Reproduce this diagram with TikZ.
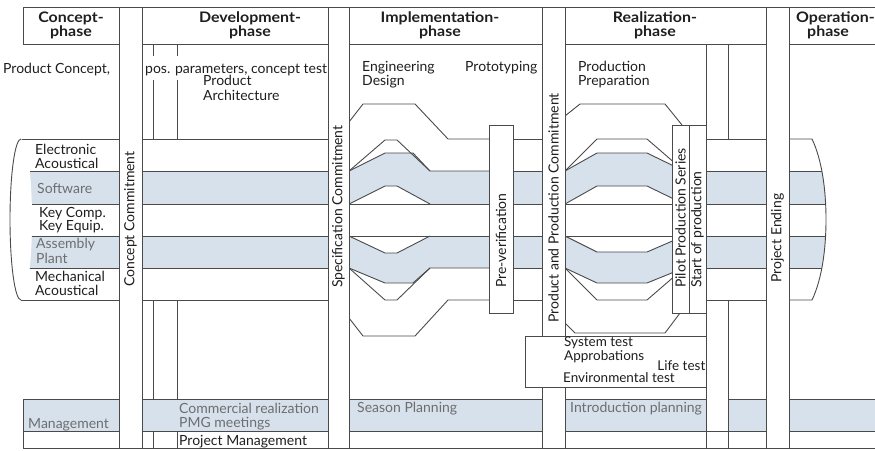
\documentclass[tikz,border=0pt]{standalone}
\usepackage{fontspec}
\setmainfont{Lato}
\newfontfamily\headfont{Lato}[FakeStretch=1.1]
\definecolor{bandblue}{HTML}{D6E1EC}
\definecolor{linec}{HTML}{4A4A4A}
\definecolor{inkc}{HTML}{1E1E1E}
\definecolor{greyc}{HTML}{6E6E6E}
\begin{document}
\begin{tikzpicture}[x=1pt,y=-1pt,
  ln/.style={draw=linec,line width=0.9pt},
  bar/.style={ln,fill=white},
  band/.style={ln,fill=bandblue},
  txt/.style={inner sep=0pt,anchor=base west,text=inkc,font=\fontsize{14}{14}\selectfont},
  gtxt/.style={txt,text=greyc},
  small/.style={font=\fontsize{13.5}{12}\selectfont},
  head/.style={inner sep=0pt,align=center,text=inkc,font=\headfont\bfseries\fontsize{14.5}{14}\selectfont},
  vtxt/.style={inner sep=0pt,anchor=west,rotate=90,text=inkc,font=\fontsize{14}{14}\selectfont}]
\useasboundingbox (0,0) rectangle (875,450);
\clip (0,0) rectangle (875,450);

% ---------- shaded bands (Software, Assembly Plant) ----------
\fill[bandblue] (21,171) rectangle (119,204);
\fill[bandblue] (21,236) rectangle (119,268);
\fill[bandblue] (142,171) rectangle (328,204);
\fill[bandblue] (142,236) rectangle (328,268);
% implementation phase: bands bulge apart
\fill[bandblue] (349,171) -- (385,153) -- (413,153) -- (430,171) -- (489,171)
  -- (489,204) -- (430,204) -- (397,186) -- (385,186) -- (349,204) -- cycle;
\fill[bandblue] (349,236) -- (385,253) -- (397,253) -- (430,236) -- (489,236)
  -- (489,268) -- (430,268) -- (413,283) -- (385,283) -- (349,268) -- cycle;
\fill[bandblue] (513,171) rectangle (542,204);
\fill[bandblue] (513,236) rectangle (542,268);
% realization phase
\fill[bandblue] (565,171) -- (597,153) -- (647,153) -- (684,171)
  -- (684,204) -- (647,186) -- (597,186) -- (565,204) -- cycle;
\fill[bandblue] (565,236) -- (597,252) -- (647,252) -- (684,236)
  -- (684,268) -- (647,283) -- (597,283) -- (565,268) -- cycle;
\fill[bandblue] (706,171) rectangle (766,204);
\fill[bandblue] (706,236) rectangle (766,268);

% ---------- band outlines ----------
\foreach \yy in {139,171,204,236,268,300} {
  \draw[ln] (21,\yy) -- (119,\yy);
  \draw[ln] (142,\yy) -- (328,\yy);
  \draw[ln] (513,\yy) -- (542,\yy);
  \draw[ln] (706,\yy) -- (766,\yy);
}
% implementation phase outlines
\draw[ln] (349,122) -- (363,104) -- (415,104) -- (448,139) -- (489,139);
\draw[ln] (349,171) -- (385,140) -- (397,140) -- (430,171);
\draw[ln] (349,171) -- (385,153) -- (413,153) -- (430,171) -- (489,171);
\draw[ln] (349,204) -- (385,186) -- (397,186) -- (430,204);
\draw[ln] (349,204) -- (489,204);
\draw[ln] (349,236) -- (489,236);
\draw[ln] (349,236) -- (385,253) -- (397,253) -- (430,236);
\draw[ln] (349,268) -- (385,283) -- (413,283) -- (430,268) -- (489,268);
\draw[ln] (349,268) -- (385,300) -- (397,300) -- (430,268);
\draw[ln] (349,318) -- (363,336) -- (415,336) -- (448,300) -- (489,300);
% realization phase outlines
\draw[ln] (565,116) -- (580,104) -- (665,104) -- (682,125);
\draw[ln] (565,171) -- (597,139) -- (647,139) -- (684,171);
\draw[ln] (565,171) -- (597,153) -- (647,153) -- (684,171);
\draw[ln] (565,204) -- (597,186) -- (647,186) -- (684,204);
\draw[ln] (565,204) -- (684,204);
\draw[ln] (565,236) -- (684,236);
\draw[ln] (565,236) -- (597,252) -- (647,252) -- (684,236);
\draw[ln] (565,268) -- (597,283) -- (647,283) -- (684,268);
\draw[ln] (565,268) -- (597,300) -- (647,300) -- (684,268);
\draw[ln] (565,323) -- (575,333) -- (665,333) -- (680,313);

% operation phase: rounded end of the band bundle
\begin{scope}
  \clip (789,139) -- (812,139) .. controls (822,160) and (826,190) .. (826,219.5)
    .. controls (826,249) and (822,279) .. (812,300) -- (789,300) -- cycle;
  \fill[bandblue] (789,171) rectangle (830,204);
  \fill[bandblue] (789,236) rectangle (830,268);
  \foreach \yy in {171,204,236,268} \draw[ln] (789,\yy) -- (830,\yy);
\end{scope}
\draw[ln] (789,139) -- (812,139) .. controls (822,160) and (826,190) .. (826,219.5)
  .. controls (826,249) and (822,279) .. (812,300) -- (789,300);

% left end of the bundle
\fill[white] (21,219.5) ellipse [x radius=11, y radius=80.5];
\draw[ln] (21,139) .. controls (14.9,139) and (10,175) .. (10,219.5)
  .. controls (10,264) and (14.9,300) .. (21,300);

% ---------- thin division lines ----------
\draw[ln] (153,44) -- (153,56) (153,80) -- (153,139) (153,300) -- (153,399) (153,431) -- (153,448);
\draw[ln] (177,44) -- (177,56) (177,80) -- (177,139) (177,300) -- (177,399) (177,431) -- (177,448);
\draw[ln] (706,44) -- (706,448);
\draw[ln] (728,44) -- (728,139) (728,300) -- (728,448);

% ---------- management row ----------
\draw[band] (23,399) rectangle (119,431);
\draw[ln] (23,431) rectangle (119,448);
\draw[band] (142,399) rectangle (328,431);
\draw[ln] (142,431) rectangle (328,448);
\draw[band] (349,399) rectangle (542,431);
\draw[ln] (349,431) rectangle (542,448);
\draw[band] (565,399) rectangle (706,431);
\draw[band] (728,399) rectangle (766,431);
\draw[ln] (565,431) rectangle (766,448);
\draw[band] (789,399) rectangle (880,431);
\draw[ln] (789,431) rectangle (880,448);
\draw[ln] (706,399) -- (706,448) (728,399) -- (728,448);

% ---------- phase headers ----------
\draw[ln] (23,7) -- (880,7);
\draw[ln] (23,7) rectangle (119,44);
\draw[ln] (142,7) rectangle (328,44);
\draw[ln] (349,7) rectangle (542,44);
\draw[ln] (565,7) rectangle (766,44);
\draw[ln] (789,7) rectangle (880,44);

% ---------- milestone bars ----------
\draw[bar] (119,7) rectangle (142,448);
\draw[bar] (328,7) rectangle (349,448);
\draw[bar] (542,7) rectangle (565,448);
\draw[bar] (766,7) rectangle (789,448);
\draw[bar] (489,125) rectangle (513,313);
\draw[bar] (672,125) rectangle (689,313);
\draw[bar] (689,125) rectangle (706,313);
\draw[bar] (525,336) rectangle (706,387);

% ---------- texts ----------
\node[head] (hconcept) at (71,25.5) {Concept-\\phase};
\node[head] (hdev) at (250,25.5) {Development-\\phase};
\node[head] (himpl) at (440,25.5) {Implementation-\\phase};
\node[head] (hreal) at (655,25.5) {Realization-\\phase};
\node[head,align=left,anchor=west] (hop) at (796,25.5) {Operation-\\\hspace*{11pt}phase};

\node[txt] (tconcept) at (3,73) {Product Concept,};
\node[txt] (tpos) at (145,73) {pos. parameters, concept test};
\node[txt,align=left,font=\fontsize{14}{15}\selectfont] (tarch) at (203,100.5) {Product\\Architecture};
\node[txt,align=left] (teng) at (362,85) {Engineering\\Design};
\node[txt] (tproto) at (465,71) {Prototyping};
\node[txt,align=left] (tprep) at (578,85) {Production\\Preparation};

\node[txt,align=left] (lelec) at (35,168) {Electronic\\Acoustical};
\node[gtxt] (lsoft) at (37,193) {Software};
\node[txt,align=left,font=\fontsize{14}{13}\selectfont] (lkey) at (39,230) {Key Comp.\\Key Equip.};
\node[gtxt,align=left,font=\fontsize{14}{15}\selectfont] (lasm) at (36,263) {Assembly\\Plant};
\node[txt,align=left] (lmech) at (35,295) {Mechanical\\Acoustical};

\node[vtxt] (vconcept) at (130.5,287) {Concept Commitment};
\node[vtxt] (vspec) at (338.5,288) {Specification Commitment};
\node[vtxt] (vpre) at (501,288) {Pre-verification};
\node[vtxt] (vppc) at (553.5,323) {Product and Production Commitment};
\node[vtxt] (vpilot) at (680.5,288) {Pilot Production Series};
\node[vtxt] (vsop) at (697.5,288) {Start of production};
\node[vtxt] (vend) at (777.5,283) {Project Ending};

\node[txt,small,align=left] (tsys) at (564,360) {System test\\Approbations};
\node[txt,small,anchor=base east] (tlife) at (705.5,370) {Life test};
\node[txt,small] (tenv) at (563,382) {Environmental test};

\node[gtxt] (tmgmt) at (28,428) {Management};
\node[gtxt,align=left] (tcomm) at (179,427) {Commercial realization\\PMG meetings};
\node[txt] (tpm) at (179,445) {Project Management};
\node[gtxt] (tseason) at (357,412) {Season Planning};
\node[gtxt] (tintro) at (570,412) {Introduction planning};
\end{tikzpicture}
\end{document}
